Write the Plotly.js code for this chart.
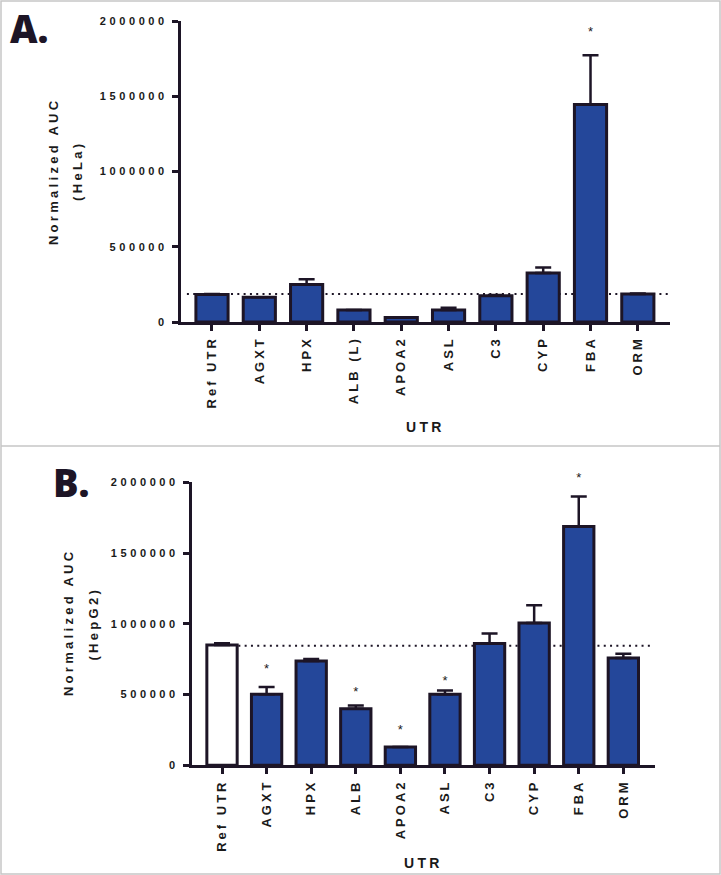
<!DOCTYPE html>
<html>
<head>
<meta charset="utf-8">
<script src="https://cdn.plot.ly/plotly-3.0.1.min.js"></script>
<style>
  html, body { margin: 0; padding: 0; background: #fff; }
  #chart { width: 721px; height: 875px; }
  .xtick text, .x2tick text { letter-spacing: 3px; }
  .ytick text, .y2tick text { letter-spacing: 3.6px; }
  .annotation .annotation-text { letter-spacing: 3.3px; }
  .annotation[data-index="0"] .annotation-text,
  .annotation[data-index="1"] .annotation-text { letter-spacing: 0px; }
</style>
</head>
<body>
<div id="chart"></div>
<script>
// ---------- data ----------
const categoriesA = ["Ref UTR", "AGXT", "HPX", "ALB (L)", "APOA2", "ASL", "C3", "CYP", "FBA", "ORM"];
const valuesA     = [183000, 165000, 250000, 80000, 30000, 80000, 175000, 325000, 1445000, 186000];
const errorsA     = [3000, 0, 34000, 0, 0, 15000, 5000, 37000, 328000, 3000];
const refLineA    = 186000;
const starCatsA   = ["FBA"];
const starValsA   = [1920000];

const categoriesB = ["Ref UTR", "AGXT", "HPX", "ALB", "APOA2", "ASL", "C3", "CYP", "FBA", "ORM"];
const valuesB     = [850000, 502000, 737000, 399000, 129000, 502000, 860000, 1006000, 1688000, 758000];
const errorsB     = [12000, 52000, 14000, 24000, 0, 26000, 71000, 125000, 212000, 31000];
const refLineB    = 845000;
const starCatsB   = ["AGXT", "ALB", "APOA2", "ASL", "FBA"];
const starValsB   = [678000, 513000, 245000, 589000, 2025000];

const yTickVals   = [0, 500000, 1000000, 1500000, 2000000];
const yTickText   = ["0", "500000", "1000000", "1500000", "2000000"];

// ---------- styles ----------
const W = 721, H = 875;
const FONT = "Liberation Sans, Arial, sans-serif";
const LINE = "#1d1526";
const TEXT = "#1a1a1a";
const BLUE = "#24479a";
const px = v => v / W;
const py = v => 1 - v / H;

// plot-area pixel geometry
const A_X0 = 181, A_X1 = 670, A_Y0 = 322, A_Y1 = 21;
const B_X0 = 192, B_X1 = 655, B_Y0 = 765.3, B_Y1 = 482.3;
const B_STAR_TOP = 468; // taller invisible axis so stars above 2,000,000 still show
const YMAX = 2000000;

const fillA = categoriesA.map(() => BLUE);
const fillB = categoriesB.map((c, i) => i === 0 ? "#ffffff" : BLUE);

function barTrace(cats, vals, errs, fills, xa, ya, width) {
  return {
    type: "bar", x: cats, y: vals, xaxis: xa, yaxis: ya, width: width,
    marker: { color: fills, line: { color: LINE, width: 3 } },
    error_y: { type: "data", symmetric: false, array: errs, arrayminus: errs.map(() => 0),
               color: LINE, thickness: 2.5, width: 8 },
    hoverinfo: "x+y"
  };
}
function starTrace(cats, vals, xa, ya) {
  return {
    type: "scatter", mode: "text", x: cats, y: vals, xaxis: xa, yaxis: ya,
    text: cats.map(() => "*"), textposition: "middle center", cliponaxis: false,
    textfont: { family: FONT, size: 13, color: TEXT }, hoverinfo: "skip"
  };
}

const data = [
  barTrace(categoriesA, valuesA, errorsA, fillA, "x", "y", 0.68),
  starTrace(starCatsA, starValsA, "x", "y"),
  barTrace(categoriesB, valuesB, errorsB, fillB, "x2", "y2", 0.68),
  starTrace(starCatsB, starValsB, "x2", "y3")
];

function xAxis(domain, anchor, range, cats) {
  return {
    domain: domain, anchor: anchor, type: "category", range: range,
    categoryorder: "array", categoryarray: cats,
    showline: true, linecolor: LINE, linewidth: 3,
    ticks: "outside", ticklen: 6, tickwidth: 3, tickcolor: LINE,
    tickangle: -90, tickfont: { family: FONT, size: 13, weight: "bold", color: TEXT },
    showgrid: false, zeroline: false, fixedrange: true
  };
}
function yAxis(domain, anchor) {
  return {
    domain: domain, anchor: anchor, range: [0, YMAX],
    tickmode: "array", tickvals: yTickVals, ticktext: yTickText,
    showline: true, linecolor: LINE, linewidth: 3,
    ticks: "outside", ticklen: 6, tickwidth: 3, tickcolor: LINE,
    tickfont: { family: FONT, size: 11, weight: "bold", color: TEXT },
    ticklabelstandoff: 2,
    showgrid: false, zeroline: false, fixedrange: true
  };
}

function ann(text, x, y, size, opts) {
  return Object.assign({
    text: text, xref: "paper", yref: "paper", x: px(x), y: py(y),
    xanchor: "center", yanchor: "middle", showarrow: false,
    font: { family: FONT, size: size, color: TEXT, weight: "bold" }
  }, opts || {});
}

const bigFont = { family: "Open Sans, " + FONT, size: 38, weight: 800, color: "#1d1526" };

const layout = {
  width: W, height: H,
  margin: { l: 0, r: 0, t: 0, b: 0 },
  paper_bgcolor: "#ffffff", plot_bgcolor: "rgba(0,0,0,0)",
  showlegend: false,
  xaxis: xAxis([px(A_X0), px(A_X1)], "y", [-0.655, 9.68], categoriesA),
  yaxis: yAxis([py(A_Y0), py(A_Y1)], "x"),
  xaxis2: xAxis([px(B_X0), px(B_X1)], "y2", [-0.673, 9.71], categoriesB),
  yaxis2: yAxis([py(B_Y0), py(B_Y1)], "x2"),
  yaxis3: {
    domain: [py(B_Y0), py(B_STAR_TOP)], anchor: "x2", visible: false, fixedrange: true,
    range: [0, YMAX * (B_Y0 - B_STAR_TOP) / (B_Y0 - B_Y1)]
  },
  annotations: [
    ann("A.", 29, 28, 38, { font: bigFont }),
    ann("B.", 71, 482, 38, { font: bigFont }),
    ann("Normalized AUC", 54, 171, 13, { textangle: -90 }),
    ann("(HeLa)", 78, 171, 13, { textangle: -90 }),
    ann("UTR", 426, 427, 14),
    ann("Normalized AUC", 68, 622, 13, { textangle: -90 }),
    ann("(HepG2)", 93, 624, 13, { textangle: -90 }),
    ann("UTR", 423, 863, 14)
  ],
  shapes: [
    { type: "rect", xref: "paper", yref: "paper", x0: px(1), x1: px(720), y0: py(874), y1: py(1),
      line: { color: "#c6c6c6", width: 1.5 }, layer: "below" },
    { type: "line", xref: "paper", yref: "paper", x0: px(1), x1: px(720), y0: py(446), y1: py(446),
      line: { color: "#c6c6c6", width: 1.5 }, layer: "below" },
    { type: "line", xref: "x", yref: "y", x0: -0.53, x1: 9.64, y0: refLineA, y1: refLineA,
      line: { color: LINE, width: 2, dash: "2px,4.3px" }, layer: "below" },
    { type: "line", xref: "x2", yref: "y2", x0: -0.34, x1: 9.66, y0: refLineB, y1: refLineB,
      line: { color: LINE, width: 2, dash: "2px,4.3px" }, layer: "below" }
  ]
};

Plotly.newPlot("chart", data, layout, { displayModeBar: false, staticPlot: true });
</script>
</body>
</html>
